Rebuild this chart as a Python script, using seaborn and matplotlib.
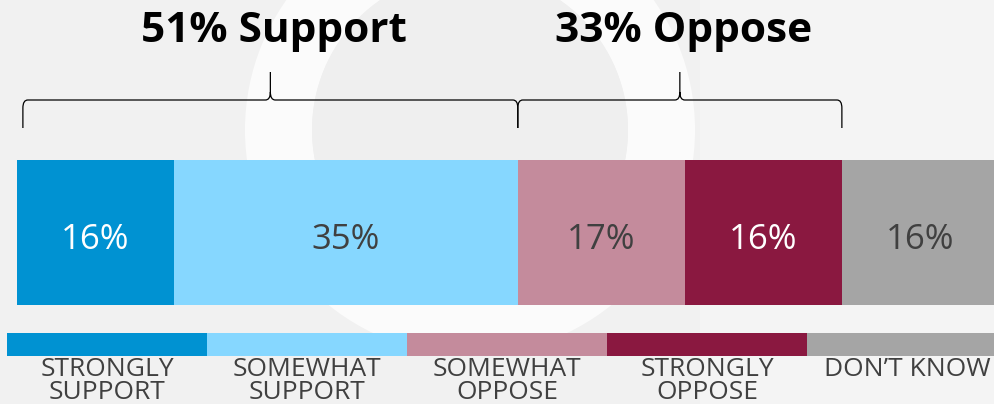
import matplotlib
matplotlib.use("Agg")
import matplotlib.pyplot as plt
from matplotlib.path import Path
from matplotlib.patches import PathPatch, Circle, Wedge
import seaborn as sns
import pandas as pd

# data
categories = ["STRONGLY\nSUPPORT", "SOMEWHAT\nSUPPORT", "SOMEWHAT\nOPPOSE", "STRONGLY\nOPPOSE", "DON\u2019T KNOW"]
shares = [16, 35, 17, 16, 16]
colors = ["#0092D2", "#86D7FF", "#C48B9C", "#8A1840", "#A5A5A5"]
label_colors = ["white", "#404040", "#404040", "white", "#404040"]
group_names = ["Support", "Oppose"]
group_sizes = [2, 2]  # number of categories in each group

sns.set_theme(style="white")
plt.rcParams["font.family"] = ["Open Sans", "DejaVu Sans"]

W, H = 995, 404
fig = plt.figure(figsize=(W / 100, H / 100), dpi=100, facecolor="#F1F1F1")

# faint background watermark (ring logo)
bg = fig.add_axes([0, 0, 1, 1])
bg.set_xlim(0, W)
bg.set_ylim(H, 0)
bg.axis("off")
bg.add_patch(Wedge((470, 130), 225, 0, 360, width=67, facecolor="white", edgecolor="none", alpha=0.75))
bg.add_patch(Circle((470, 130), 158, facecolor="#EFEFEF", edgecolor="none"))
bg.add_patch(plt.Rectangle((700, 0), 295, H, facecolor="#F4F4F4", edgecolor="none", zorder=0))

# stacked bar
left_px, px_per_pct = 17, 9.82
bar_top, bar_bot = 160, 305
ax = fig.add_axes([left_px / W, (H - bar_bot) / H, (W - left_px) / W, (bar_bot - bar_top) / H])
cum = pd.Series(shares).cumsum()
df = pd.DataFrame({"cat": categories, "end": cum, "color": colors})
for i in reversed(range(len(df))):
    sns.barplot(x=[df["end"][i]], y=[0], orient="h", color=df["color"][i],
                width=1, saturation=1, ax=ax, linewidth=0)
ax.set_xlim(0, (W - left_px) / px_per_pct)
ax.set_ylim(0.5, -0.5)
ax.axis("off")

starts = cum - pd.Series(shares)
for s, v, c in zip(starts, shares, label_colors):
    ax.text(s + v / 2, 0.05, f"{v}%", ha="center", va="center", fontsize=25, color=c)

# braces and group headers, x in percent, y in pixels
ov = fig.add_axes([0, 0, 1, 1])
ov.set_xlim(-left_px / px_per_pct, (W - left_px) / px_per_pct)
ov.set_ylim(H, 0)
ov.axis("off")
ov.patch.set_alpha(0)

rx = 0.5
y_end, y_mid, y_peak = 128, 100, 72
pos = 0
for name, n in zip(group_names, group_sizes):
    total = sum(shares[pos:pos + n])
    x0 = starts[pos]
    x1 = x0 + total
    if x0 == 0:
        x0 += 0.6
    mid = (x0 + x1) / 2
    verts = [(x0, y_end), (x0, y_mid + 8), (x0, y_mid), (x0 + rx, y_mid),
             (mid - rx, y_mid), (mid, y_mid), (mid, y_mid - 8), (mid, y_peak),
             (mid, y_mid - 8), (mid, y_mid), (mid + rx, y_mid),
             (x1 - rx, y_mid), (x1, y_mid), (x1, y_mid + 8), (x1, y_end)]
    codes = [Path.MOVETO, Path.LINETO, Path.CURVE3, Path.CURVE3,
             Path.LINETO, Path.CURVE3, Path.CURVE3, Path.LINETO,
             Path.MOVETO, Path.CURVE3, Path.CURVE3,
             Path.LINETO, Path.CURVE3, Path.CURVE3, Path.LINETO]
    ov.add_patch(PathPatch(Path(verts, codes), facecolor="none", edgecolor="black", lw=0.9))
    ov.text(mid + 0.4, 32, f"{total}% {name}", ha="center", va="center",
            fontsize=30.5, fontweight="bold", color="black")
    pos += n

# legend strips
lg_left, lg_w = 7, 200
lg = fig.add_axes([lg_left / W, (H - 356) / H, lg_w * len(categories) / W, 23 / H])
sns.barplot(x=list(range(len(categories))), y=[1] * len(categories), hue=list(range(len(categories))),
            palette=colors, width=1, saturation=1, legend=False, ax=lg, linewidth=0)
lg.set_xlim(-0.5, len(categories) - 0.5)
lg.set_ylim(0, 1)
lg.axis("off")
for i, cat in enumerate(categories):
    lg.text(i, -0.03, cat, ha="center", va="top", fontsize=19, color="#404040",
            linespacing=0.92, clip_on=False)

fig.savefig("out.png", dpi=100, facecolor=fig.get_facecolor())
